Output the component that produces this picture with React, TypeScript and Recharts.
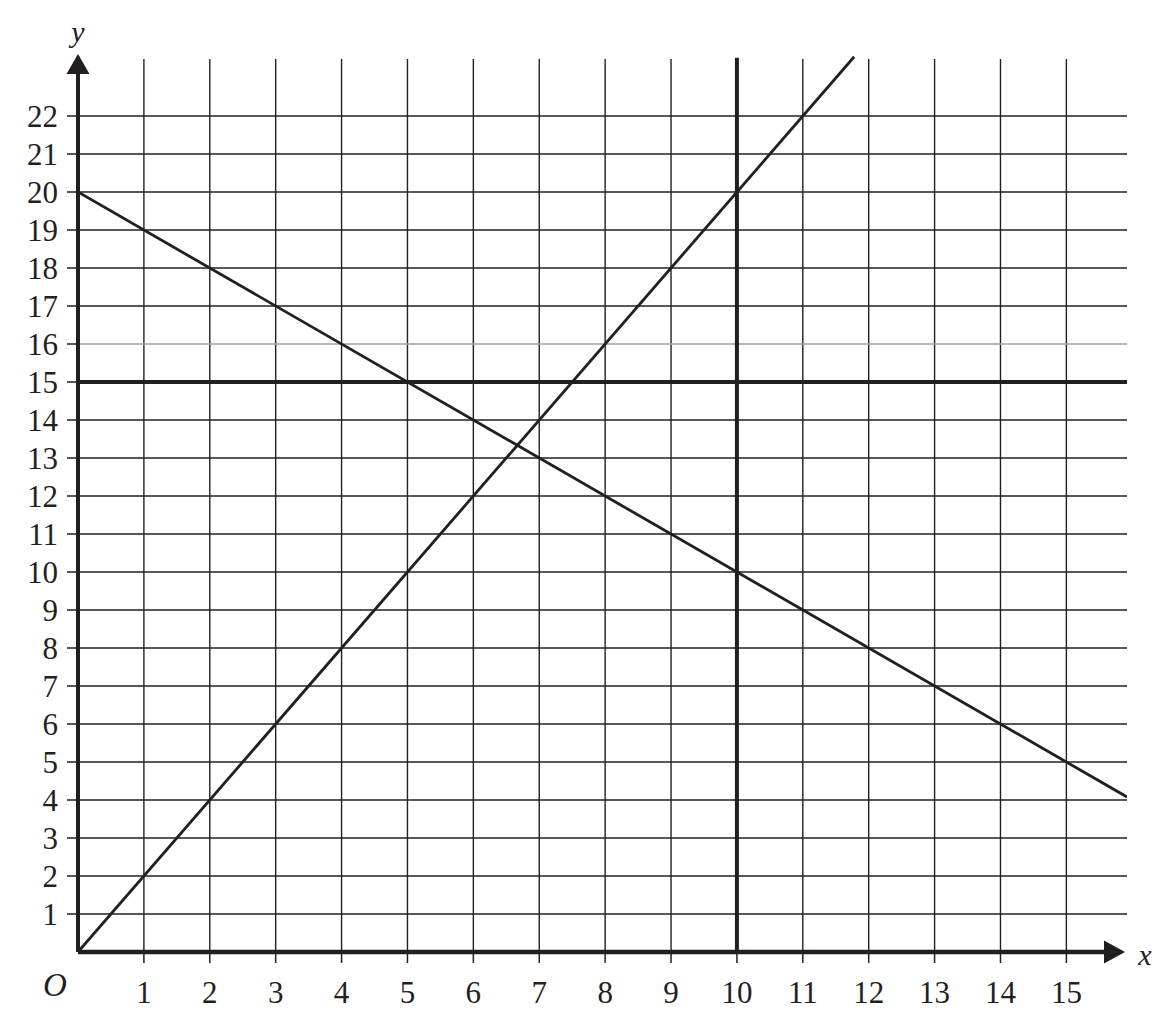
import {
  ComposedChart,
  Line,
  XAxis,
  YAxis,
  ReferenceLine,
  ReferenceDot,
} from "recharts";

const INK = "#231f20";
const SERIF = "Liberation Serif, Times New Roman, serif";

// axis extents
const X_MAX = 15.92;
const Y_MAX = 23.7;
const GRID_TOP = 23.5;

const xTicks = [1, 2, 3, 4, 5, 6, 7, 8, 9, 10, 11, 12, 13, 14, 15];
const yTicks = [1, 2, 3, 4, 5, 6, 7, 8, 9, 10, 11, 12, 13, 14, 15, 16, 17, 18, 19, 20, 21, 22];

// y = 2x
const risingX = [0, 11.78];
const risingY = [0, 23.56];
// y = 20 - x
const fallingX = [0, 15.92];
const fallingY = [20, 4.08];

// the two heavy lines
const heavyX = 10;
const heavyY = 15;

const risingData = risingX.map((x, i) => ({ x, y: risingY[i] }));
const fallingData = fallingX.map((x, i) => ({ x, y: fallingY[i] }));

function ArrowUp({ cx, cy }: any) {
  return <polygon points={`${cx},${cy} ${cx - 11.5},${cy + 20} ${cx + 11.5},${cy + 20}`} fill={INK} />;
}

function ArrowRight({ cx, cy }: any) {
  return <polygon points={`${cx},${cy} ${cx - 21},${cy - 11.5} ${cx - 21},${cy + 11.5}`} fill={INK} />;
}

function Letter({ cx, cy, text, dx = 0, dy = 0, size = 30 }: any) {
  return (
    <text
      x={cx + dx}
      y={cy + dy}
      textAnchor="middle"
      dominantBaseline="central"
      fontFamily={SERIF}
      fontStyle="italic"
      fontSize={size}
      fill={INK}
    >
      {text}
    </text>
  );
}

export default function App() {
  return (
    <ComposedChart
      width={1160}
      height={1010}
      margin={{ top: 43.4, right: 41, bottom: 16, left: 10 }}
    >
      <XAxis
        type="number"
        dataKey="x"
        domain={[0, X_MAX]}
        ticks={xTicks}
        interval={0}
        allowDataOverflow
        axisLine={false}
        tickLine={{ stroke: INK, strokeWidth: 1.5 }}
        tickSize={11}
        tickMargin={18}
        height={50}
        tick={{ fill: INK, fontSize: 31, fontFamily: SERIF }}
      />
      <YAxis
        type="number"
        dataKey="y"
        domain={[0, Y_MAX]}
        ticks={yTicks}
        interval={0}
        allowDataOverflow
        axisLine={false}
        tickLine={{ stroke: INK, strokeWidth: 1.5 }}
        tickSize={11}
        tickMargin={9}
        width={60}
        tick={{ fill: INK, fontSize: 31, fontFamily: SERIF }}
      />

      {xTicks.map((v) => (
        <ReferenceLine
          key={`gx${v}`}
          segment={[{ x: v, y: 0 }, { x: v, y: GRID_TOP }]}
          stroke={INK}
          strokeWidth={1.4}
          ifOverflow="visible"
        />
      ))}
      {yTicks.map((v) => (
        <ReferenceLine
          key={`gy${v}`}
          segment={[{ x: 0, y: v }, { x: X_MAX, y: v }]}
          stroke={v === 16 ? "#a0a0a0" : INK}
          strokeWidth={1.4}
          ifOverflow="visible"
        />
      ))}

      <ReferenceLine
        segment={[{ x: heavyX, y: 0 }, { x: heavyX, y: 23.53 }]}
        stroke={INK}
        strokeWidth={4}
        ifOverflow="visible"
      />
      <ReferenceLine
        segment={[{ x: 0, y: heavyY }, { x: X_MAX, y: heavyY }]}
        stroke={INK}
        strokeWidth={4}
        ifOverflow="visible"
      />

      <Line
        data={risingData}
        dataKey="y"
        type="linear"
        stroke={INK}
        strokeWidth={2.8}
        dot={false}
        activeDot={false}
        isAnimationActive={false}
      />
      <Line
        data={fallingData}
        dataKey="y"
        type="linear"
        stroke={INK}
        strokeWidth={2.8}
        dot={false}
        activeDot={false}
        isAnimationActive={false}
      />

      {/* axes with arrow heads */}
      <ReferenceLine
        segment={[{ x: 0, y: 0 }, { x: 0, y: 23.2 }]}
        stroke={INK}
        strokeWidth={4}
        ifOverflow="visible"
      />
      <ReferenceLine
        segment={[{ x: 0, y: 0 }, { x: 15.6, y: 0 }]}
        stroke={INK}
        strokeWidth={4.5}
        ifOverflow="visible"
      />
      <ReferenceDot x={0} y={23.63} r={0} ifOverflow="visible" shape={(p: any) => <ArrowUp {...p} />} />
      <ReferenceDot x={15.89} y={0} r={0} ifOverflow="visible" shape={(p: any) => <ArrowRight {...p} />} />

      <ReferenceDot x={0} y={Y_MAX} r={0} ifOverflow="visible" shape={(p: any) => <Letter {...p} text="y" dy={-20} />} />
      <ReferenceDot x={X_MAX} y={0} r={0} ifOverflow="visible" shape={(p: any) => <Letter {...p} text="x" dx={18} dy={2} />} />
      <ReferenceDot x={0} y={0} r={0} ifOverflow="visible" shape={(p: any) => <Letter {...p} text="O" dx={-23} dy={33} size={33} />} />
    </ComposedChart>
  );
}
